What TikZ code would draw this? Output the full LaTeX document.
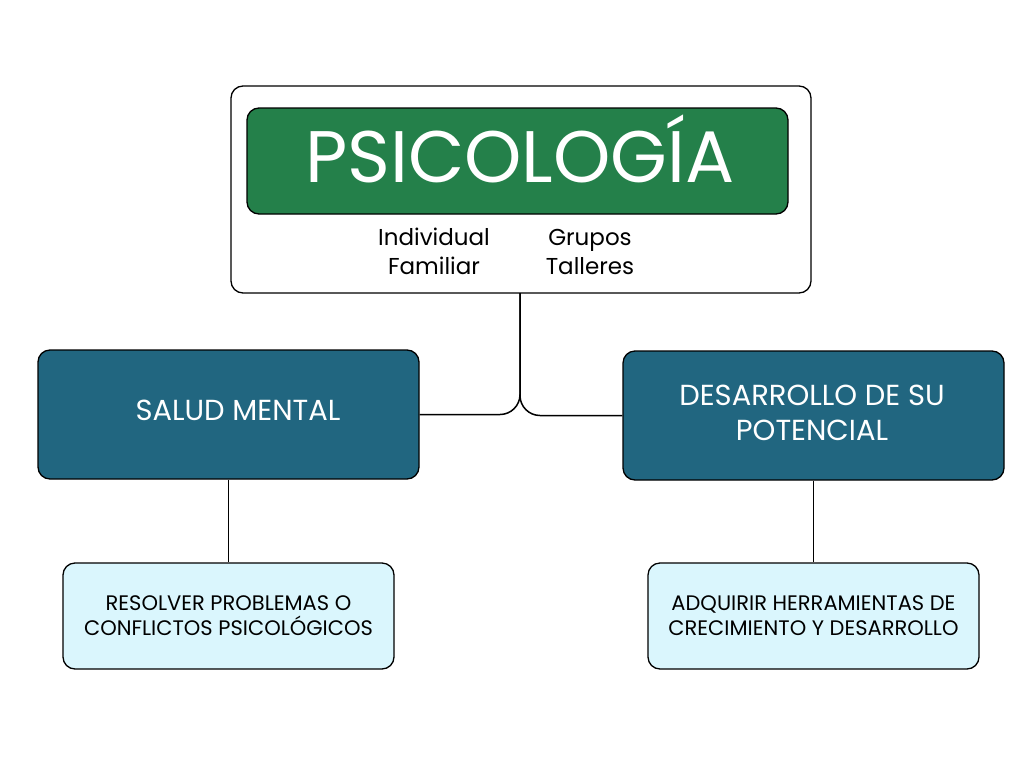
\documentclass[tikz,border=0pt]{standalone}
\usepackage{fontspec}
\setmainfont{Poppins}
\definecolor{titlegreen}{RGB}{36,128,74}
\definecolor{teal}{RGB}{33,102,128}
\definecolor{lightblue}{RGB}{218,246,253}
\tikzset{
  box/.style={draw=black, line width=1.3pt, rounded corners=12pt, inner sep=0pt, align=center},
  conn/.style={draw=black, line width=1.5pt, rounded corners=20pt},
}
\begin{document}
\begin{tikzpicture}[x=1pt,y=-1pt]
\useasboundingbox (0,0) rectangle (1024,768);
\node[box, fill=white, minimum width=580pt, minimum height=207pt] (outer) at (521,189.5) {};
\node[box, fill=titlegreen, minimum width=541pt, minimum height=106pt] (title) at (517.5,161) {};
\node[anchor=base, inner sep=0pt, text=white, font=\fontsize{73}{73}\selectfont] (titletext) at (520,182) {PSICOLOGÍA};
\node[align=center, font=\fontsize{23}{29}\selectfont] (ind) at (434,251.5) {Individual\\Familiar};
\node[align=center, font=\fontsize{23}{29}\selectfont] (grp) at (590,251.5) {Grupos\\Talleres};
\node[box, fill=teal, minimum width=381pt, minimum height=129pt] (salud) at (228.5,414.5) {};
\node[anchor=base, inner sep=0pt, text=white, font=\fontsize{29}{35}\selectfont] (saludtext) at (238,420) {SALUD MENTAL};
\node[box, fill=teal, minimum width=381pt, minimum height=129pt] (des) at (813.5,415.5) {};
\node[align=center, inner sep=0pt, text=white, font=\fontsize{29}{35}\selectfont] (destext) at (812,412.5) {DESARROLLO DE SU\\POTENCIAL};
\node[box, fill=lightblue, minimum width=331pt, minimum height=106pt, font=\fontsize{21}{25}\selectfont] (res) at (228.5,616) {RESOLVER PROBLEMAS O\\CONFLICTOS PSICOLÓGICOS};
\node[box, fill=lightblue, minimum width=331pt, minimum height=106pt, font=\fontsize{21}{25}\selectfont] (adq) at (813.5,616) {ADQUIRIR HERRAMIENTAS DE\\CRECIMIENTO Y DESARROLLO};
\coordinate (top) at (520,293);
\draw[conn] (top) |- (salud.east);
\draw[conn] (top) |- (des.west);
\draw[line width=1.5pt] (salud.south) -- (res.north);
\draw[line width=1.5pt] (des.south) -- (adq.north);
\end{tikzpicture}
\end{document}
